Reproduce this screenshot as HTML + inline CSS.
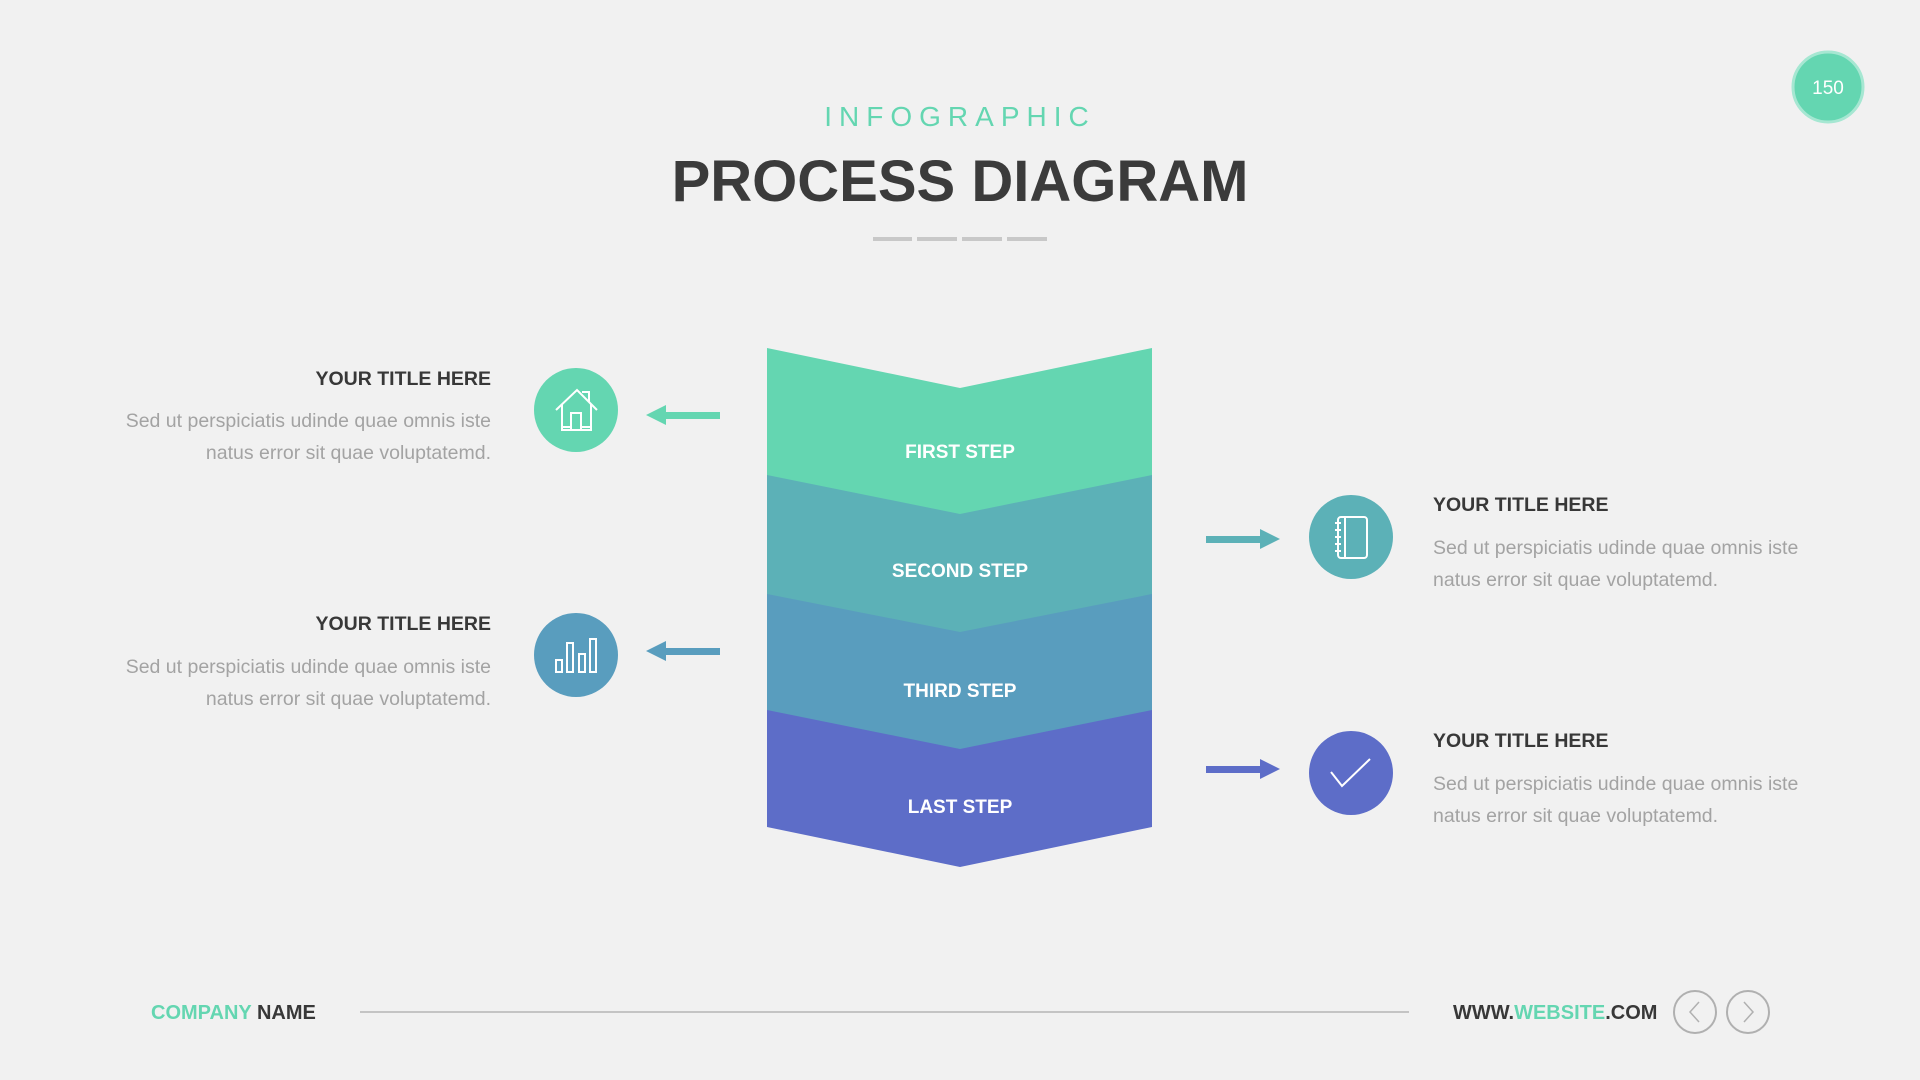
<!DOCTYPE html>
<html><head><meta charset="utf-8"><style>
html,body{margin:0;padding:0;background:#f1f1f1;}
svg{display:block;font-family:"Liberation Sans",sans-serif;}
</style></head><body>
<svg width="1920" height="1080" viewBox="0 0 1920 1080" xmlns="http://www.w3.org/2000/svg">
<rect width="1920" height="1080" fill="#f1f1f1"/>
<!-- badge -->
<circle cx="1828" cy="87" r="35" fill="#64d6b1" stroke="#a6e7d2" stroke-width="3"/>
<text x="1828" y="94" text-anchor="middle" font-size="19" fill="#fff">150</text>
<!-- header -->
<text x="960" y="126" text-anchor="middle" font-size="28" fill="#64d6b1" letter-spacing="7">INFOGRAPHIC</text>
<text x="960" y="201" text-anchor="middle" font-size="58" font-weight="bold" fill="#3b3b3b">PROCESS DIAGRAM</text>
<g fill="#c8c8c8"><rect x="873" y="237" width="39" height="4"/><rect x="917" y="237" width="40" height="4"/><rect x="962" y="237" width="40" height="4"/><rect x="1007" y="237" width="40" height="4"/></g>
<!-- chevrons -->
<polygon points="767,700 960,740 1152,700 1152,827 960,867 767,827" fill="#5d6dc8"/>
<polygon points="767,585 960,625 1152,585 1152,710 960,749 767,710" fill="#599dbe"/>
<polygon points="767,465 960,505 1152,465 1152,594 960,632 767,594" fill="#5cb1b7"/>
<polygon points="767,348 960,388 1152,348 1152,475 960,514 767,475" fill="#64d6b1"/>
<g font-size="19" font-weight="bold" fill="#fff" text-anchor="middle">
<text x="960" y="458">FIRST STEP</text>
<text x="960" y="577">SECOND STEP</text>
<text x="960" y="697">THIRD STEP</text>
<text x="960" y="813">LAST STEP</text>
</g>
<!-- left arrows -->
<rect x="664" y="412" width="56" height="7" fill="#64d6b1"/><polygon points="646,415 666,405 666,425" fill="#64d6b1"/>
<rect x="664" y="648" width="56" height="7" fill="#599dbe"/><polygon points="646,651 666,641 666,661" fill="#599dbe"/>
<!-- right arrows -->
<rect x="1206" y="536" width="56" height="7" fill="#5cb1b7"/><polygon points="1280,539 1260,529 1260,549" fill="#5cb1b7"/>
<rect x="1206" y="766" width="56" height="7" fill="#5d6dc8"/><polygon points="1280,769 1260,759 1260,779" fill="#5d6dc8"/>
<!-- icons -->
<circle cx="576" cy="410" r="42" fill="#64d6b1"/>
<g stroke="#fff" stroke-width="2" fill="none">
<polyline points="556,410 577,390 597,410"/><polyline points="562,404 562,430 591,430 591,404"/>
<rect x="571" y="413" width="10" height="17"/><polyline points="583,393 583,392 589,392 589,402"/>
<line x1="562" y1="427" x2="571" y2="427"/><line x1="581" y1="427" x2="591" y2="427"/>
</g>
<circle cx="576" cy="655" r="42" fill="#599dbe"/>
<g stroke="#fff" stroke-width="2" fill="none">
<rect x="556" y="660" width="6" height="12"/><rect x="567" y="643" width="6" height="29"/><rect x="579" y="654" width="6" height="18"/><rect x="590" y="639" width="6" height="33"/>
</g>
<circle cx="1351" cy="537" r="42" fill="#5cb1b7"/>
<g stroke="#fff" stroke-width="2" fill="none">
<rect x="1338" y="517" width="29" height="41" rx="3"/><line x1="1345" y1="517" x2="1345" y2="558"/>
<line x1="1335" y1="523" x2="1341" y2="523"/><line x1="1335" y1="530" x2="1341" y2="530"/><line x1="1335" y1="537" x2="1341" y2="537"/><line x1="1335" y1="544" x2="1341" y2="544"/><line x1="1335" y1="551" x2="1341" y2="551"/>
</g>
<circle cx="1351" cy="773" r="42" fill="#5d6dc8"/>
<polyline points="1331,772 1342,786 1370,759" stroke="#fff" stroke-width="2" fill="none"/>
<!-- left texts -->
<g font-size="19.5" text-anchor="end">
<text x="491" y="385" font-weight="bold" fill="#383838">YOUR TITLE HERE</text>
<text x="491" y="427" fill="#a3a3a3">Sed ut perspiciatis udinde quae omnis iste</text>
<text x="491" y="459" fill="#a3a3a3">natus error sit quae voluptatemd.</text>
<text x="491" y="630" font-weight="bold" fill="#383838">YOUR TITLE HERE</text>
<text x="491" y="673" fill="#a3a3a3">Sed ut perspiciatis udinde quae omnis iste</text>
<text x="491" y="705" fill="#a3a3a3">natus error sit quae voluptatemd.</text>
</g>
<g font-size="19.5">
<text x="1433" y="511" font-weight="bold" fill="#383838">YOUR TITLE HERE</text>
<text x="1433" y="554" fill="#a3a3a3">Sed ut perspiciatis udinde quae omnis iste</text>
<text x="1433" y="586" fill="#a3a3a3">natus error sit quae voluptatemd.</text>
<text x="1433" y="747" font-weight="bold" fill="#383838">YOUR TITLE HERE</text>
<text x="1433" y="790" fill="#a3a3a3">Sed ut perspiciatis udinde quae omnis iste</text>
<text x="1433" y="822" fill="#a3a3a3">natus error sit quae voluptatemd.</text>
</g>
<!-- footer -->
<text x="151" y="1019" font-size="20" font-weight="bold"><tspan fill="#64d6b1">COMPANY</tspan><tspan fill="#383838"> NAME</tspan></text>
<rect x="360" y="1011" width="1049" height="2" fill="#c4c4c4"/>
<text x="1453" y="1019" font-size="20" font-weight="bold" fill="#383838">WWW.<tspan fill="#64d6b1">WEBSITE</tspan>.COM</text>
<circle cx="1695" cy="1012" r="21" fill="none" stroke="#b0b0b0" stroke-width="2"/>
<polyline points="1699,1002 1690,1012 1699,1022" fill="none" stroke="#b0b0b0" stroke-width="1.5"/>
<circle cx="1748" cy="1012" r="21" fill="none" stroke="#b0b0b0" stroke-width="2"/>
<polyline points="1744,1002 1753,1012 1744,1022" fill="none" stroke="#b0b0b0" stroke-width="1.5"/>
</svg>
</body></html>
